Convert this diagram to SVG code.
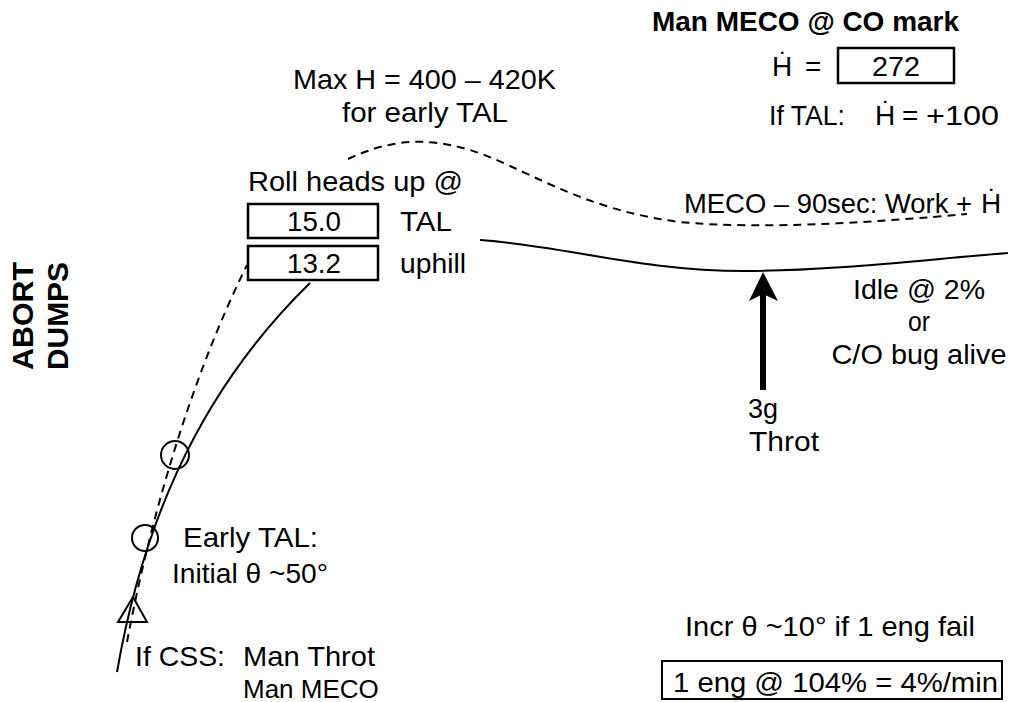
<svg xmlns="http://www.w3.org/2000/svg" width="1034" height="702" viewBox="0 0 1034 702">
<style>
text{font-family:"Liberation Sans",Arial,sans-serif;fill:#000;font-size:28px}
.b{font-weight:bold}
.line{fill:none;stroke:#000;stroke-width:2}
.dash{fill:none;stroke:#000;stroke-width:2;stroke-dasharray:8,6}
.box{fill:none;stroke:#000;stroke-width:2.5}
</style>
<rect width="1034" height="702" fill="#fff"/>
<g id="connectors">
<path class="line" d="M117,672 C140,540 190,400 310,283"/>
<path class="dash" d="M127,642 C150,520 190,380 247,265"/>
<path class="dash" d="M348,159 C385,142 420,135 470,150 C520,165 580,210 680,222 C760,230 880,222 967,214"/>
<path class="line" d="M480,240 C560,245 640,271 745,271 C830,271 920,260 1008,253"/>
<g id="arrow">
<rect x="760" y="292" width="6" height="98" fill="#000"/>
<path d="M763,272 L778,301 L763,294 L749,301 Z" fill="#000"/>
</g>
</g>
<g id="markers">
<circle cx="145" cy="538" r="13" class="line"/>
<circle cx="175" cy="455" r="14" class="line"/>
<polygon points="133,597 147,622 118,622" class="line"/>
</g>
<g id="abort-dumps">
<text class="b" style="font-size:30px" text-anchor="middle" textLength="108" lengthAdjust="spacingAndGlyphs" transform="translate(33,316) rotate(-90)">ABORT</text>
<text class="b" style="font-size:30px" text-anchor="middle" textLength="108" lengthAdjust="spacingAndGlyphs" transform="translate(68,316) rotate(-90)">DUMPS</text>
</g>
<g id="meco-box">
<text class="b" x="652" y="31" textLength="307" lengthAdjust="spacingAndGlyphs">Man MECO @ CO mark</text>
<text x="772" y="76">Ḣ</text>
<text x="805" y="76">=</text>
<rect class="box" x="838" y="48" width="116" height="35"/>
<text x="896" y="76" text-anchor="middle" textLength="48" lengthAdjust="spacingAndGlyphs">272</text>
<text x="769" y="125" textLength="76" lengthAdjust="spacingAndGlyphs">If TAL:</text>
<text x="875" y="125">Ḣ</text>
<text x="902" y="125">=</text>
<text x="926" y="125" textLength="73" lengthAdjust="spacingAndGlyphs">+100</text>
</g>
<g id="maxh">
<text x="293" y="89" textLength="263" lengthAdjust="spacingAndGlyphs">Max H = 400 – 420K</text>
<text x="342" y="122" textLength="166" lengthAdjust="spacingAndGlyphs">for early TAL</text>
</g>
<g id="roll">
<text x="248" y="191" textLength="215" lengthAdjust="spacingAndGlyphs">Roll heads up @</text>
<rect class="box" x="248" y="204" width="130" height="34"/>
<text x="314" y="231" text-anchor="middle" textLength="54" lengthAdjust="spacingAndGlyphs">15.0</text>
<text x="400" y="231" textLength="52" lengthAdjust="spacingAndGlyphs">TAL</text>
<rect class="box" x="248" y="246" width="130" height="34"/>
<text x="314" y="273" text-anchor="middle" textLength="54" lengthAdjust="spacingAndGlyphs">13.2</text>
<text x="400" y="273" textLength="66" lengthAdjust="spacingAndGlyphs">uphill</text>
</g>
<g id="meco90">
<text x="684" y="213" textLength="288" lengthAdjust="spacingAndGlyphs">MECO – 90sec: Work +</text>
<text x="981" y="213">Ḣ</text>
</g>
<g id="idle">
<text x="919" y="299" text-anchor="middle" textLength="132" lengthAdjust="spacingAndGlyphs">Idle @ 2%</text>
<text x="919" y="331" text-anchor="middle" textLength="22" lengthAdjust="spacingAndGlyphs">or</text>
<text x="919" y="364" text-anchor="middle" textLength="175" lengthAdjust="spacingAndGlyphs">C/O bug alive</text>
</g>
<g id="throt">
<text x="748" y="418" textLength="30" lengthAdjust="spacingAndGlyphs">3g</text>
<text x="749" y="451" textLength="70" lengthAdjust="spacingAndGlyphs">Throt</text>
</g>
<g id="early">
<text x="183" y="547" textLength="135" lengthAdjust="spacingAndGlyphs">Early TAL:</text>
<text x="172" y="583" textLength="156" lengthAdjust="spacingAndGlyphs">Initial θ ~50°</text>
</g>
<g id="css">
<text x="135" y="666" textLength="90" lengthAdjust="spacingAndGlyphs">If CSS:</text>
<text x="243" y="666" textLength="132" lengthAdjust="spacingAndGlyphs">Man Throt</text>
<text x="243" y="698" style="font-size:26px">Man MECO</text>
</g>
<g id="incr">
<text x="685" y="636" textLength="290" lengthAdjust="spacingAndGlyphs">Incr θ ~10° if 1 eng fail</text>
<rect x="662" y="661" width="340" height="38" fill="none" stroke="#000" stroke-width="2"/>
<text x="673" y="692" textLength="325" lengthAdjust="spacingAndGlyphs">1 eng @ 104% = 4%/min</text>
</g>
</svg>
